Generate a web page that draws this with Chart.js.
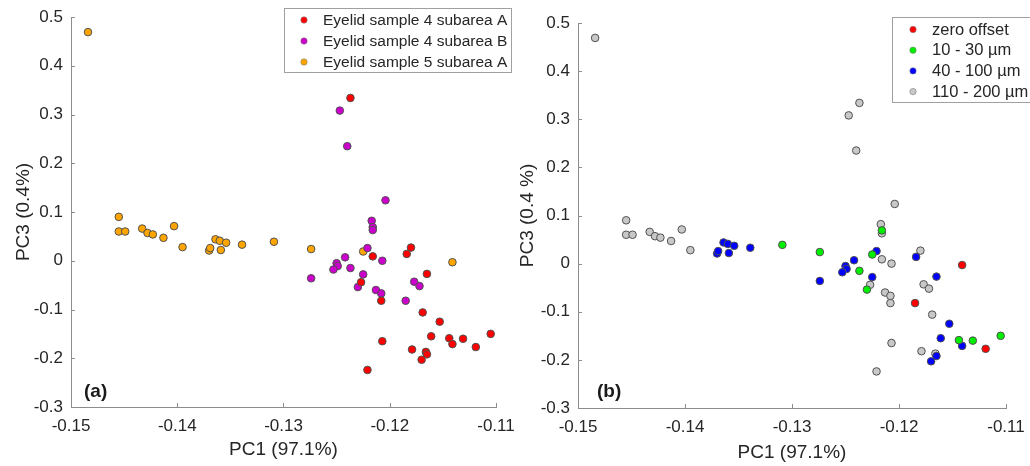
<!DOCTYPE html>
<html>
<head>
<meta charset="utf-8">
<script src="https://cdn.jsdelivr.net/npm/chart.js@4.4.0/dist/chart.umd.min.js"></script>
<style>
  body { margin: 0; background: #fff; width: 1030px; height: 466px; overflow: hidden; position: relative; font-family: "Liberation Sans", Arial, sans-serif; }
  .panel { position: absolute; top: 0; width: 515px; height: 466px; }
  .tag { position: absolute; font-weight: bold; font-size: 19px; color: #1a1a1a; line-height: 1; }
</style>
</head>
<body>
<div class="panel" style="left:0"><canvas id="chartA"></canvas></div>
<div class="panel" style="left:515px"><canvas id="chartB"></canvas></div>
<div class="tag" style="left:84px;top:381px">(a)</div>
<div class="tag" style="left:597px;top:381px">(b)</div>
<script>
// PC scores per sample (PC1, PC3) and the offset band each spectrum belongs to
// band: 0 = zero offset, 1 = 10-30 µm, 2 = 40-100 µm, 3 = 110-200 µm
const s4aPC1 = [-0.1237, -0.1180, -0.1184, -0.1216, -0.1165, -0.1227, -0.1208, -0.1169, -0.1153, -0.1161, -0.1144,
                -0.1141, -0.1131, -0.1119, -0.1105, -0.1207, -0.1179, -0.1166, -0.1165, -0.1170, -0.1221];
const s4aPC3 = [0.334, 0.027, 0.014, 0.009, -0.027, -0.044, -0.082, -0.106, -0.125, -0.155, -0.159,
                -0.171, -0.160, -0.177, -0.150, -0.165, -0.182, -0.187, -0.192, -0.203, -0.224];
const s4aBand = [3, 3, 2, 3, 2, 3, 3, 3, 2, 2, 1, 2, 1, 0, 1, 3, 3, 3, 2, 2, 3];

const s4bPC1 = [-0.1247, -0.1240, -0.1204, -0.1217, -0.1216, -0.1216, -0.1221, -0.1242, -0.1207, -0.1250, -0.1249,
                -0.1253, -0.1237, -0.1225, -0.1274, -0.1230, -0.1213, -0.1208, -0.1177, -0.1172, -0.1185];
const s4bPC3 = [0.308, 0.235, 0.124, 0.082, 0.069, 0.063, 0.026, 0.007, 0.000, -0.005, -0.011,
                -0.018, -0.015, -0.028, -0.036, -0.054, -0.060, -0.067, -0.043, -0.052, -0.082];
const s4bBand = [3, 3, 3, 3, 1, 3, 2, 2, 3, 2, 2, 2, 1, 2, 2, 1, 3, 3, 3, 3, 0];

const s5aPC1 = [-0.1484, -0.1455, -0.1455, -0.1449, -0.1433, -0.1428, -0.1423, -0.1413, -0.1403, -0.1395, -0.1370,
                -0.1369, -0.1364, -0.1360, -0.1359, -0.1354, -0.1339, -0.1309, -0.1274, -0.1225, -0.1141];
const s5aPC3 = [0.469, 0.090, 0.060, 0.060, 0.066, 0.057, 0.054, 0.047, 0.071, 0.028, 0.021,
                0.026, 0.044, 0.041, 0.022, 0.037, 0.033, 0.039, 0.024, 0.019, -0.003];
const s5aBand = [3, 3, 3, 3, 3, 3, 3, 3, 3, 3, 2, 2, 2, 2, 2, 2, 2, 1, 1, 1, 0];

const sampleNames = ['Eyelid sample 4 subarea A', 'Eyelid sample 4 subarea B', 'Eyelid sample 5 subarea A'];
const sampleColors = ['#ff0000', '#cc00cc', '#ffa500'];
const bandNames = ['zero offset', '10 - 30 µm', '40 - 100 µm', '110 - 200 µm'];
const bandColors = ['#ff0000', '#00ee00', '#0000ff', '#c8c8c8'];

const xTicks = { min: -0.15, max: -0.11, step: 0.01 };
const yTicks = { min: -0.3, max: 0.5, step: 0.1 };

const samples = [
  { x: s4aPC1, y: s4aPC3, band: s4aBand },
  { x: s4bPC1, y: s4bPC3, band: s4bBand },
  { x: s5aPC1, y: s5aPC3, band: s5aBand }
];

const pointStyle = (color) => ({
  backgroundColor: color,
  borderColor: '#505050',
  borderWidth: 1,
  pointRadius: 3.8,
  pointHoverRadius: 3.8
});

// (a) one dataset per sample
const datasetsA = samples.map((s, i) => ({
  label: sampleNames[i],
  data: s.x.map((v, k) => ({ x: v, y: s.y[k] })),
  ...pointStyle(sampleColors[i])
}));

// (b) same spectra regrouped by offset band
const datasetsB = bandNames.map((name, b) => {
  const pts = [];
  samples.forEach(s => s.band.forEach((bb, k) => { if (bb === b) pts.push({ x: s.x[k], y: s.y[k] }); }));
  return { label: name, data: pts, ...pointStyle(bandColors[b]) };
});

// tick marks pointing into the plot, drawn at the scale's own tick values
const innerTicks = {
  id: 'innerTicks',
  afterDatasetsDraw(chart) {
    const { ctx, chartArea: a, scales: { x, y } } = chart;
    ctx.save();
    ctx.strokeStyle = '#8c8c8c';
    ctx.lineWidth = 1;
    ctx.beginPath();
    x.ticks.forEach(t => {
      const px = Math.round(x.getPixelForValue(t.value)) + 0.5;
      ctx.moveTo(px, a.bottom); ctx.lineTo(px, a.bottom - 4);
    });
    y.ticks.forEach(t => {
      const py = Math.round(y.getPixelForValue(t.value)) + 0.5;
      ctx.moveTo(a.left, py); ctx.lineTo(a.left + 4, py);
    });
    ctx.stroke();
    ctx.restore();
  }
};

// boxed legend in the upper right corner
const boxLegend = {
  id: 'boxLegend',
  afterDraw(chart, args, o) {
    const ctx = chart.ctx;
    ctx.save();
    ctx.fillStyle = '#fff';
    ctx.fillRect(o.x, o.y, o.w, o.h);
    ctx.strokeStyle = '#a0a0a0';
    ctx.lineWidth = 1;
    ctx.strokeRect(o.x + 0.5, o.y + 0.5, o.w, o.h);
    ctx.font = o.size + 'px "Liberation Sans", Arial, sans-serif';
    ctx.textBaseline = 'middle';
    chart.data.datasets.forEach((ds, i) => {
      const cy = o.row0 + i * o.rowGap;
      ctx.beginPath();
      ctx.arc(o.markX, cy, 3.2, 0, Math.PI * 2);
      ctx.fillStyle = ds.backgroundColor;
      ctx.fill();
      ctx.strokeStyle = '#808080';
      ctx.lineWidth = 0.6;
      ctx.stroke();
      ctx.fillStyle = '#262626';
      ctx.fillText(ds.label, o.textX, cy + 0.5);
    });
    ctx.restore();
  }
};

const fmt = v => String(+v.toFixed(2));

function makeChart(id, datasets, look) {
  return new Chart(document.getElementById(id), {
    type: 'scatter',
    data: { datasets },
    plugins: [innerTicks, boxLegend],
    options: {
      responsive: true,
      maintainAspectRatio: false,
      animation: false,
      layout: { padding: look.padding },
      plugins: {
        legend: { display: false },
        tooltip: { enabled: false },
        boxLegend: look.legend
      },
      scales: {
        x: {
          min: xTicks.min, max: xTicks.max,
          afterFit: s => { s.height = look.xHeight; s.paddingLeft = 0; s.paddingRight = 0; },
          grid: { display: false, drawTicks: false },
          border: { display: true, color: '#8c8c8c', width: 1 },
          ticks: { stepSize: xTicks.step, callback: fmt, padding: 9, maxRotation: 0, autoSkip: false,
                   color: '#262626', font: { family: 'Liberation Sans', size: 17 } },
          title: { display: true, text: 'PC1 (97.1%)', color: '#262626',
                   font: { family: 'Liberation Sans', size: 19 }, padding: { top: 0, bottom: look.xTitlePad } }
        },
        y: {
          min: yTicks.min, max: yTicks.max,
          afterFit: s => { s.width = look.yWidth; s.paddingTop = 0; s.paddingBottom = 0; },
          grid: { display: false, drawTicks: false },
          border: { display: true, color: '#8c8c8c', width: 1 },
          ticks: { stepSize: yTicks.step, callback: fmt, padding: 8, autoSkip: false,
                   color: '#262626', font: { family: 'Liberation Sans', size: 17 } },
          title: { display: true, text: look.yTitle, color: '#262626',
                   font: { family: 'Liberation Sans', size: 19 }, padding: { top: look.yTitlePad, bottom: 0 } }
        }
      }
    }
  });
}

makeChart('chartA', datasetsA, {
  padding: { left: 0, top: 17, right: 19, bottom: 0 },
  xHeight: 59, yWidth: 71, xTitlePad: 4.6, yTitlePad: 12.6,
  yTitle: 'PC3 (0.4%)',
  legend: { x: 284, y: 8, w: 227, h: 64, markX: 304, textX: 323, row0: 20, rowGap: 21, size: 15.5 }
});

makeChart('chartB', datasetsB, {
  padding: { left: 0, top: 23, right: 24, bottom: 0 },
  xHeight: 58, yWidth: 63, xTitlePad: 1.6, yTitlePad: 1.6,
  yTitle: 'PC3 (0.4 %)',
  legend: { x: 377, y: 17, w: 140, h: 85, markX: 398, textX: 417, row0: 29.5, rowGap: 20.7, size: 16.5 }
});
</script>
</body>
</html>
